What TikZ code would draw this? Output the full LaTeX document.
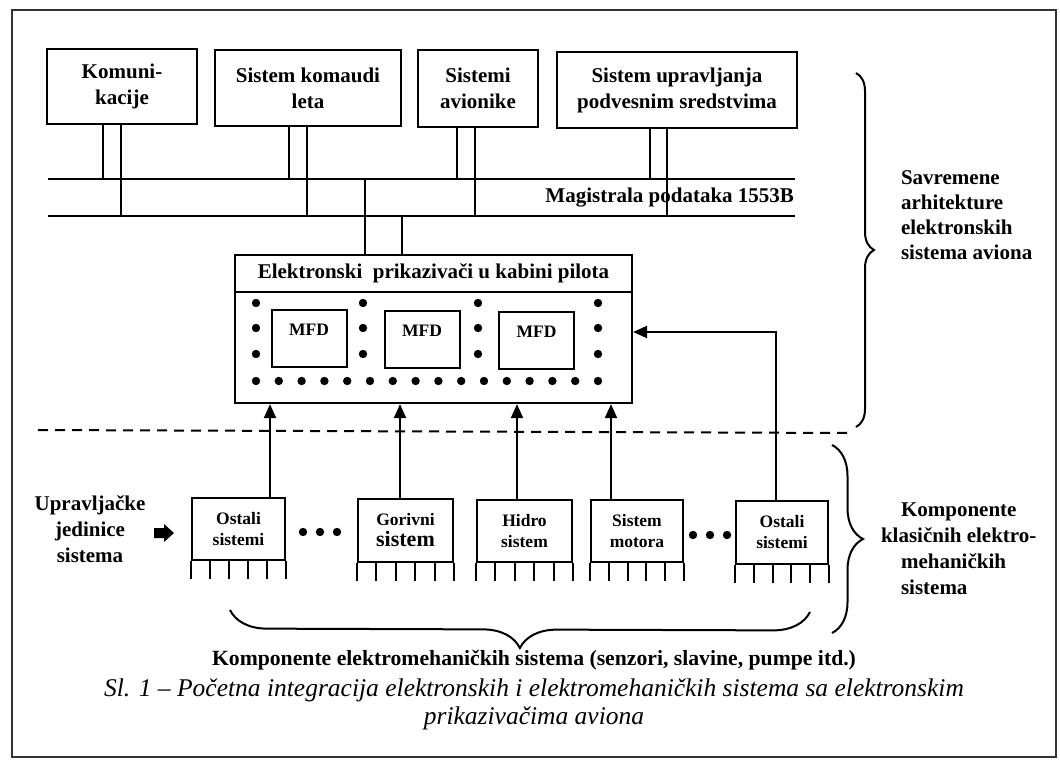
\documentclass[tikz,border=0pt]{standalone}
\usepackage{fontspec}
\setmainfont{Liberation Serif}
\usetikzlibrary{arrows.meta,calc,decorations.pathreplacing}
\newcommand\lblfont{\fontsize{21}{26}\selectfont\bfseries}
\newcommand\boxfont{\fontsize{17.5}{21}\selectfont\bfseries}
\newcommand\capfont{\fontsize{25.5}{28}\selectfont\itshape}
\begin{document}
\begin{tikzpicture}[x=1pt,y=-1pt,line width=2pt,
  topbox/.style={draw,line width=2.2pt,font=\lblfont,align=center,inner sep=0pt},
  sysbox/.style={draw,line width=2.2pt,font=\boxfont,align=center,inner sep=0pt},
  mfdbox/.style={draw,line width=2pt,minimum width=75pt,minimum height=57pt,inner sep=0pt,
    label={[font=\boxfont,anchor=center,yshift=-21pt]north:MFD}},
  lbl/.style={font=\lblfont,inner sep=0pt},
  arr/.style={-{Triangle[length=14pt,width=12pt]}},
  brc/.style={decorate,line width=2pt},
  divider/.style={dash pattern=on 10pt off 7pt,line width=2pt}]
\useasboundingbox (0,0) rectangle (1060,762);

% outer frame
\draw[black!80] (12,10) rectangle (1056,757);

% subsystems on the data bus
\node[topbox,minimum width=150pt,minimum height=75pt] (kom) at (122,86.5) {Komuni-\\kacije};
\node[topbox,minimum width=186pt,minimum height=76pt] (sku) at (308,88) {Sistem komaudi\\leta};
\node[topbox,minimum width=120pt,minimum height=77pt] (sav) at (478,88.5) {Sistemi\\avionike};
\node[topbox,minimum width=240pt,minimum height=76pt] (sup) at (677,90) {Sistem upravljanja\\podvesnim sredstvima};

% dual-redundant data bus
\coordinate (busAw) at (48,179);
\coordinate (busAe) at (795,179);
\coordinate (busBw) at (48,216);
\coordinate (busBe) at (795,216);
\draw (busAw) -- (busAe);
\draw (busBw) -- (busBe);
\node[lbl,anchor=east] (buslbl) at (795,198) {Magistrala podataka 1553B};

% bus stubs of each subsystem
\foreach \n/\a/\b in {kom/-19/-1, sku/-19/-1, sav/-21/-3, sup/-27/-10} {
  \path ([xshift=\a pt]\n.south) coordinate (sA);
  \path ([xshift=\b pt]\n.south) coordinate (sB);
  \draw (sA) -- (sA |- busAw);
  \draw (sB) -- (sB |- busBw);
}

% cockpit display unit
\node[draw,line width=2.2pt,minimum width=397pt,minimum height=37pt,inner sep=0pt,font=\lblfont] (hdr) at (433.5,273.5) {Elektronski\ \ prikazivači u kabini pilota};
\node[draw,line width=2.2pt,minimum width=397pt,minimum height=111pt,inner sep=0pt] (body) at (433.5,347.5) {};
\path ([xshift=-68.5pt]hdr.north) coordinate (dA);
\path ([xshift=-31.5pt]hdr.north) coordinate (dB);
\draw (dA |- busAw) -- (dA);
\draw (dB |- busBw) -- (dB);

\node[mfdbox] (mfd1) at (309,338.5) {};
\node[mfdbox] (mfd2) at (422,339) {};
\node[mfdbox] (mfd3) at (536.5,340.5) {};

% indicator dots
\foreach \x in {256,363,478,598}
  \foreach \y in {303,328,354}
    \fill (\x,\y) circle (4.2pt);
\foreach \i in {0,...,15}
  \fill ({256+\i*22.8},381) circle (4.2pt);

% boundary between the two architectures
\coordinate (divw) at (38,430);
\coordinate (dive) at (848,433);
\draw[divider] (divw) -- (dive);

% electromechanical systems
\node[sysbox,minimum width=93pt,minimum height=62pt] (osb1) at (238.5,529) {Ostali\\sistemi};
\node[sysbox,minimum width=95pt,minimum height=63pt] (gor) at (405.5,530.5) {Gorivni\\{\fontsize{22}{21}\selectfont sistem}};
\node[sysbox,minimum width=95pt,minimum height=62pt] (hid) at (524.5,531) {Hidro\\sistem};
\node[sysbox,minimum width=92pt,minimum height=62pt] (mot) at (637,531) {Sistem\\motora};
\node[sysbox,minimum width=92pt,minimum height=63pt] (osb2) at (782,532.5) {Ostali\\sistemi};

\foreach \n in {osb1,gor,hid,mot,osb2}
  \foreach \i in {0,...,5}
    \draw ($(\n.south west)!\i/5!(\n.south east)$) -- ++(0,18);

% signals up to the displays
\foreach \n/\s in {osb1/31.5, gor/-5.5, hid/-7.5, mot/-26} {
  \path ([xshift=\s pt]\n.north) coordinate (up);
  \draw[arr] (up) -- (up |- body.south);
}
\draw[arr] ([xshift=-6pt]osb2.north) |- ([yshift=15.5pt]body.east);

% ellipses between systems
\node[inner sep=0pt] (el1) at (320,532) {};
\node[inner sep=0pt] (el2) at (710,535) {};
\foreach \e in {el1,el2}
  \foreach \d in {-17,0,17}
    \fill ([xshift=\d pt]\e) circle (4.2pt);

% control units and their block arrow
\node[lbl,align=center] (upr) at (90,529) {Upravljačke\\jedinice\\sistema};
\coordinate (uarr) at (164,533);
\fill[line join=miter] ([shift={(-10,-5)}]uarr) -- ++(10,0) -- ++(0,-4) -- ++(10,9)
  -- ++(-10,9) -- ++(0,-4) -- ++(-10,0) -- cycle;

% braces and their labels
\draw[brc,decoration={brace,amplitude=18pt}] (856,73) -- (856,427);
\node[lbl,align=left,anchor=west,font=\fontsize{21}{25}\selectfont\bfseries] (sav2) at (900,215.5)
  {Savremene\\arhitekture\\elektronskih\\sistema aviona};

\draw[brc,decoration={brace,amplitude=31pt}] (832,445) -- (832,633);
\node[lbl,align=left,anchor=west] (kks) at (900,549)
  {Komponente\\\hspace*{-20pt}klasičnih elektro-\\mehaničkih\\sistema};

\draw[brc,decoration={brace,amplitude=37pt}] (810,612) -- (230,610);
\node[lbl,font=\fontsize{21.7}{26}\selectfont\bfseries] (kem) at (534,660) {Komponente elektromehaničkih sistema (senzori, slavine, pumpe itd.)};

% figure caption
\node[font=\capfont,align=center,inner sep=0pt] (cap) at (534,704)
  {Sl. 1 – Početna integracija elektronskih i elektromehaničkih sistema sa elektronskim\\prikazivačima aviona};
\end{tikzpicture}
\end{document}
